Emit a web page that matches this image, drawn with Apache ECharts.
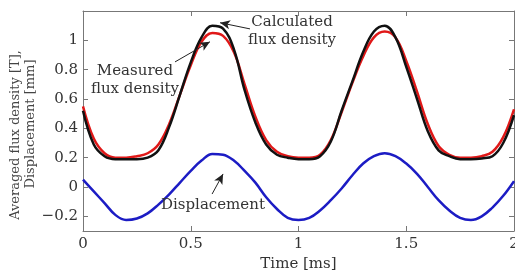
<!DOCTYPE html>
<html>
<head>
<meta charset="utf-8">
<script src="https://cdn.jsdelivr.net/npm/echarts@6/dist/echarts.min.js"></script>
<style>
  html, body { margin: 0; padding: 0; background: #fff; }
  #chart { width: 515px; height: 270px; }
</style>
</head>
<body>
<div id="chart"></div>
<script>
// time axis in ms, sampled every 0.05 ms
const timeMs = [0, 0.05, 0.1, 0.15, 0.2, 0.25, 0.3, 0.35, 0.4, 0.45, 0.5, 0.55, 0.6, 0.65, 0.7, 0.75, 0.8, 0.85, 0.9, 0.95,
  1, 1.05, 1.1, 1.15, 1.2, 1.25, 1.3, 1.35, 1.4, 1.45, 1.5, 1.55, 1.6, 1.65, 1.7, 1.75, 1.8, 1.85, 1.9, 1.95, 2]
const measuredFlux = [0.55, 0.33, 0.23, 0.20, 0.20, 0.21, 0.23, 0.29, 0.43, 0.63, 0.83, 0.99, 1.05, 1.03, 0.92, 0.70, 0.48, 0.32, 0.24, 0.21,
  0.20, 0.20, 0.22, 0.32, 0.51, 0.71, 0.89, 1.02, 1.06, 1.02, 0.86, 0.65, 0.43, 0.28, 0.22, 0.20, 0.20, 0.21, 0.24, 0.34, 0.53]
const calculatedFlux = [0.52, 0.29, 0.21, 0.19, 0.19, 0.19, 0.20, 0.25, 0.41, 0.63, 0.85, 1.02, 1.10, 1.08, 0.94, 0.66, 0.44, 0.29, 0.22, 0.20,
  0.19, 0.19, 0.21, 0.31, 0.52, 0.72, 0.92, 1.06, 1.10, 1.02, 0.82, 0.60, 0.38, 0.25, 0.21, 0.19, 0.19, 0.195, 0.21, 0.30, 0.49]
const displacement = [0.05, -0.03, -0.11, -0.19, -0.225, -0.215, -0.18, -0.12, -0.05, 0.03, 0.11, 0.18, 0.225, 0.22, 0.18, 0.11, 0.03, -0.07, -0.15, -0.21,
  -0.225, -0.21, -0.16, -0.09, -0.01, 0.08, 0.16, 0.21, 0.23, 0.21, 0.16, 0.09, 0.0, -0.09, -0.16, -0.21, -0.225, -0.20, -0.14, -0.06, 0.04]
const xTicks = [0, 0.5, 1, 1.5, 2]
const yTicks = [-0.2, 0, 0.2, 0.4, 0.6, 0.8, 1]

const font = 'DejaVu Serif'
const zip = (ys) => timeMs.map((t, i) => [t, ys[i]])
const fmt = (v) => (v < 0 ? '\u2212' + Math.abs(v) : String(v))

function arrow(from, to) {
  return [
    { coord: from, symbol: 'none' },
    { coord: to, symbol: 'arrow', symbolSize: [7, 10] }
  ]
}
function note(at, text) {
  return { coord: at, name: text, symbol: 'circle', symbolSize: 0 }
}
function yTitle(x, y, text) {
  return {
    type: 'text', x: x, y: y, rotation: Math.PI / 2, silent: true,
    style: { text: text, fill: '#444', font: '13px "' + font + '"', align: 'center', verticalAlign: 'middle' }
  }
}
const annoLine = { color: '#222', width: 1, type: 'solid' }
const annoLabel = { show: true, position: 'inside', formatter: '{b}', color: '#333', fontFamily: font, fontSize: 15, lineHeight: 18 }

const frameAxis = {
  axisLine: { show: true, onZero: false, lineStyle: { color: '#777', width: 1 } },
  axisTick: { show: true, inside: true, length: 5, lineStyle: { color: '#777' } },
  splitLine: { show: false }
}

let option = {
  backgroundColor: '#fff',
  animation: false,
  grid: { left: 83, right: 1, top: 11, bottom: 39, outerBoundsMode: 'none' },
  graphic: [
    yTitle(16, 135, 'Averaged flux density [T],'),
    yTitle(31, 124, 'Displacement [mm]')
  ],
  xAxis: [
    {
      ...frameAxis, type: 'value', min: 0, max: 2,
      axisTick: { ...frameAxis.axisTick, customValues: xTicks },
      axisLabel: { customValues: xTicks, formatter: fmt, color: '#333', fontFamily: font, fontSize: 15, margin: 6 },
      name: 'Time [ms]', nameLocation: 'middle', nameGap: 24,
      nameTextStyle: { color: '#333', fontFamily: font, fontSize: 15 }
    },
    {
      ...frameAxis, type: 'value', min: 0, max: 2, position: 'top',
      axisTick: { ...frameAxis.axisTick, customValues: xTicks },
      axisLabel: { show: false }
    }
  ],
  yAxis: [
    {
      ...frameAxis, type: 'value', min: -0.3, max: 1.2,
      axisTick: { ...frameAxis.axisTick, customValues: yTicks },
      axisLabel: { customValues: yTicks, formatter: fmt, color: '#333', fontFamily: font, fontSize: 15, margin: 5 }
    },
    {
      ...frameAxis, type: 'value', min: -0.3, max: 1.2, position: 'right',
      axisTick: { ...frameAxis.axisTick, customValues: yTicks },
      axisLabel: { show: false }
    }
  ],
  series: [
    {
      name: 'Measured flux density', type: 'line', smooth: 0.4, symbol: 'none',
      data: zip(measuredFlux),
      lineStyle: { color: '#e01818', width: 2.5 },
      markLine: { silent: true, label: { show: false }, lineStyle: annoLine, data: [arrow([0.427, 0.853], [0.589, 0.99])] },
      markPoint: { silent: true, label: annoLabel, data: [note([0.241, 0.73], 'Measured\nflux density')] }
    },
    {
      name: 'Calculated flux density', type: 'line', smooth: 0.4, symbol: 'none',
      data: zip(calculatedFlux),
      lineStyle: { color: '#111', width: 2.5 },
      markLine: { silent: true, label: { show: false }, lineStyle: annoLine, data: [arrow([0.775, 1.078], [0.636, 1.12])] },
      markPoint: { silent: true, label: annoLabel, data: [note([0.97, 1.065], 'Calculated\nflux density')] }
    },
    {
      name: 'Displacement', type: 'line', smooth: 0.4, symbol: 'none',
      data: zip(displacement),
      lineStyle: { color: '#1c1cc4', width: 2.5 },
      markLine: { silent: true, label: { show: false }, lineStyle: annoLine, data: [arrow([0.599, -0.048], [0.65, 0.089])] },
      markPoint: { silent: true, label: annoLabel, data: [note([0.603, -0.123], 'Displacement')] }
    }
  ]
}

const chart = echarts.init(document.getElementById('chart'))
chart.setOption(option)
</script>
</body>
</html>
